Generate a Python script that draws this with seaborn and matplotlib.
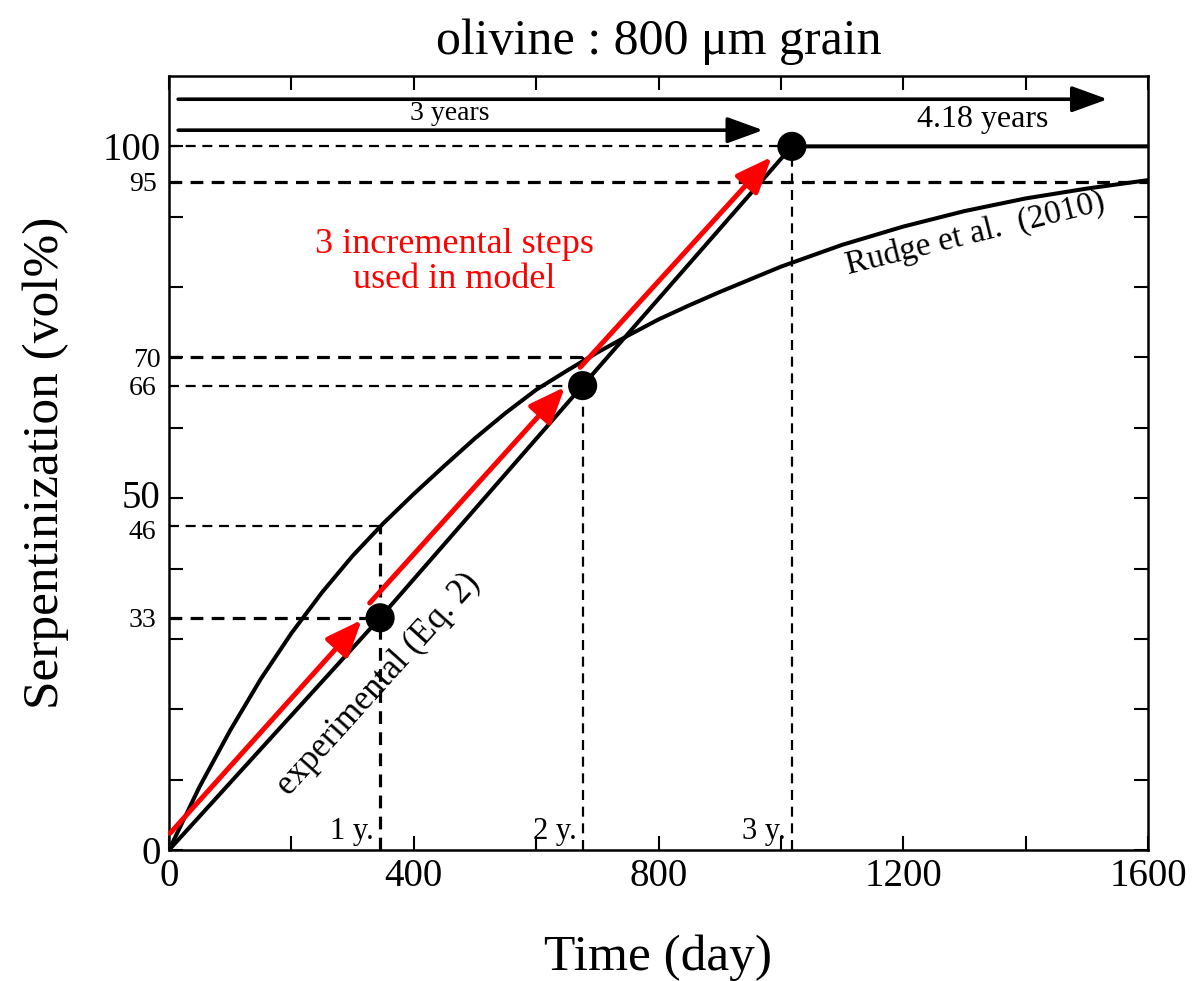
import numpy as np
import pandas as pd
import seaborn as sns
import matplotlib.pyplot as plt
import matplotlib.transforms as mtransforms

# ---------------- data ----------------
rudge_time = [0, 50, 100, 150, 200, 250, 300, 350, 400, 450, 500, 550, 600,
              650, 700, 750, 800, 850, 900, 1000, 1100, 1200, 1300, 1400,
              1500, 1600]
rudge_serp = [0, 9.0, 17.0, 24.3, 30.8, 36.6, 41.8, 46.4, 50.6, 54.6, 58.5,
              62.1, 65.4, 68.1, 70.7, 73.1, 75.4, 77.4, 79.3, 82.9, 86.0,
              88.6, 90.8, 92.6, 94.0, 95.2]

exp_time = [0, 345, 676, 1018, 1600]
exp_serp = [0, 33, 66, 100, 100]

dot_time = [345, 676, 1018]
dot_serp = [33, 66, 100]
year_labels = ["1 y.", "2 y.", "3 y."]

# red incremental steps
step_t0 = [2, 328, 672]
step_s0 = [2.4, 35.1, 68.6]
step_t1 = [315, 647, 985]
step_s1 = [32.7, 65.8, 98.5]

# horizontal reference levels
h_level = [100, 95, 70, 66, 46, 33]
h_end = [1018, 1600, 676, 676, 345, 345]
h_bold = [False, True, True, False, False, True]
# vertical reference lines
v_time = [345, 676, 1018]
v_top = [46, 70, 100]
v_bold = [True, False, False]

# period arrows
period_label = ["4.18 years", "3 years"]
period_start = [15, 15]
period_end = [1534, 971]
period_level = [106.7, 102.3]

x_ticks = [0, 200, 400, 600, 800, 1000, 1200, 1400, 1600]
x_ticklabels = ["0", "", "400", "", "800", "", "1200", "", "1600"]
y_major = [0, 10, 20, 30, 40, 50, 60, 70, 80, 90, 100]
y_major_labels = ["0", "", "", "", "", "50", "", "70", "", "", "100"]
y_minor = [33, 46, 66, 95]

# ---------------- styling ----------------
sns.set_theme(style="ticks")
plt.rcParams["font.family"] = ["Liberation Serif", "DejaVu Serif"]
plt.rcParams["text.color"] = "black"
plt.rcParams["axes.labelcolor"] = "black"
plt.rcParams["xtick.color"] = "black"
plt.rcParams["ytick.color"] = "black"

fig = plt.figure(figsize=(11.93, 9.81), dpi=100)
ax = fig.add_axes([169 / 1193, 131 / 981, 979 / 1193, 774 / 981])

rudge_df = pd.DataFrame({"t": rudge_time, "s": rudge_serp})
exp_df = pd.DataFrame({"t": exp_time, "s": exp_serp})
dot_df = pd.DataFrame({"t": dot_time, "s": dot_serp})

# dashed reference lines
for lv, xe, b in zip(h_level, h_end, h_bold):
    ax.plot([0, xe], [lv, lv], color="black", lw=2.3 if b else 1.6,
            dashes=(4, 2.6) if b else (4.5, 3), zorder=2)
for xv, yt, b in zip(v_time, v_top, v_bold):
    ax.plot([xv, xv], [0, yt], color="black", lw=2.3 if b else 1.6,
            dashes=(4, 2.6) if b else (4.5, 3), zorder=2)

sns.lineplot(data=rudge_df, x="t", y="s", color="black", lw=2.9, ax=ax,
             zorder=3, sort=False)
sns.lineplot(data=exp_df, x="t", y="s", color="black", lw=2.9, ax=ax,
             zorder=3, sort=False)
sns.scatterplot(data=dot_df, x="t", y="s", color="black", s=440, ax=ax,
                zorder=6, edgecolor="none")

# red arrows
for t0, s0, t1, s1 in zip(step_t0, step_s0, step_t1, step_s1):
    ax.annotate("", xy=(t1, s1), xytext=(t0, s0),
                arrowprops=dict(arrowstyle="-|>,head_length=1.1,head_width=0.45",
                                color="red", lw=3.6, shrinkA=0, shrinkB=0,
                                mutation_scale=20), zorder=5)

# period arrows
for lab, t0, t1, lv in zip(period_label, period_start, period_end, period_level):
    ax.annotate("", xy=(t1, lv), xytext=(t0, lv),
                arrowprops=dict(arrowstyle="-|>,head_length=1.1,head_width=0.4",
                                color="black", lw=2.6, shrinkA=0, shrinkB=0,
                                mutation_scale=20), zorder=5)
ax.text(459, 104.6, period_label[1], ha="center", va="center", fontsize=20)
ax.text(1330, 103.8, period_label[0], ha="center", va="center", fontsize=23)

# year labels
for xv, lab in zip(v_time, year_labels):
    ax.text(xv - 10, 1.6, lab, ha="right", va="baseline", fontsize=22)

# annotations
ax.text(467, 83.6, "3 incremental steps\nused in model", color="red",
        ha="center", va="center", fontsize=26, linespacing=1.1)
ax.text(1318, 87.6, "Rudge et al.  (2010)", rotation=14, ha="center",
        va="center", fontsize=24, rotation_mode="anchor")
ax.text(343, 23.5, "experimental (Eq. 2)", rotation=48, ha="center",
        va="center", fontsize=25, rotation_mode="anchor")

# axes
ax.set_xlim(0, 1600)
ax.set_ylim(0, 110)
ax.set_xticks(x_ticks)
ax.set_xticklabels(x_ticklabels, fontsize=28)
ax.set_yticks(y_major)
ax.set_yticklabels(y_major_labels, fontsize=28)
ax.get_yticklabels()[7].set_fontsize(20)
ax.set_yticks(y_minor, minor=True)
ax.set_yticklabels([str(v) for v in y_minor], minor=True, fontsize=20)
ax.tick_params(axis="both", which="major", direction="in", length=10,
               width=1.5, top=True, right=True, pad=6, colors="black")
ax.tick_params(axis="y", which="minor", length=0, pad=9)
for sp in ax.spines.values():
    sp.set_linewidth(1.8)
    sp.set_color("black")

# nudge the crowded 50 / 46 labels apart slightly
lab50 = ax.get_yticklabels()[5]
lab50.set_transform(lab50.get_transform() +
                    mtransforms.ScaledTranslation(0, 3 / 72, fig.dpi_scale_trans))
lab46 = ax.get_yticklabels(minor=True)[1]
lab46.set_transform(lab46.get_transform() +
                    mtransforms.ScaledTranslation(0, -2 / 72, fig.dpi_scale_trans))

ax.set_xlabel("Time (day)", fontsize=37, labelpad=28)
ax.set_ylabel("Serpentinization (vol%)", fontsize=37, labelpad=24)
ax.set_title("olivine : 800 \u03bcm grain", fontsize=36, pad=16)

fig.savefig("out.png", dpi=100)
